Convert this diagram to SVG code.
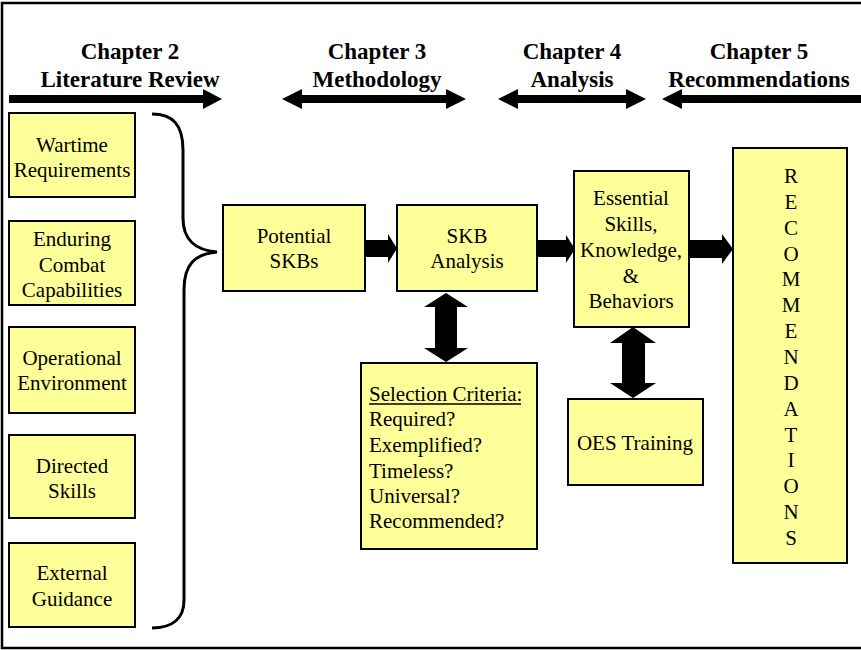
<svg xmlns="http://www.w3.org/2000/svg" width="861" height="650" viewBox="0 0 861 650" font-family="Liberation Serif, Times New Roman, Times, serif">
<style>
.box{fill:#FFFF99;stroke:#000;stroke-width:2}
.t{font-size:21px;text-anchor:middle;fill:#000}
.tl{font-size:21px;fill:#000}
.h{font-size:23px;font-weight:bold;text-anchor:middle;fill:#000}
.arr{fill:#000}
</style>
<rect width="861" height="650" fill="#fff"/>
<path d="M861,3 H2 V648 H861" fill="none" stroke="#000" stroke-width="2.5"/>
<g id="headers">
<text class="h" font-family="Liberation Serif" x="130" y="59">Chapter 2</text>
<text class="h" font-family="Liberation Serif" x="130" y="87">Literature Review</text>
<text class="h" font-family="Liberation Serif" x="377" y="59">Chapter 3</text>
<text class="h" font-family="Liberation Serif" x="377" y="87">Methodology</text>
<text class="h" font-family="Liberation Serif" x="572" y="59">Chapter 4</text>
<text class="h" font-family="Liberation Serif" x="572" y="87">Analysis</text>
<text class="h" font-family="Liberation Serif" x="759" y="59">Chapter 5</text>
<text class="h" font-family="Liberation Serif" x="759" y="87">Recommendations</text>
</g>
<g id="connectors">
<polygon class="arr" points="9,95 203,95 203,89 222,99 203,109 203,103 9,103"/>
<polygon class="arr" points="282,99 302,89 302,95 446,95 446,89 466,99 446,109 446,103 302,103 302,109"/>
<polygon class="arr" points="498,99 518,89 518,95 626,95 626,89 646,99 626,109 626,103 518,103 518,109"/>
<polygon class="arr" points="662,99 682,89 682,95 861,95 861,103 682,103 682,109"/>
<path d="M152,114 C173,114 183,125 183,150 L183,218 C183,240 195,250 217,252 C195,254 184,264 184,290 L184,600 C184,618 173,628 152,628" fill="none" stroke="#000" stroke-width="3"/>
<polygon class="arr" points="365,240 388,240 388,234 397,248.5 388,263 388,257 365,257"/>
<polygon class="arr" points="537,240 566,240 566,235 575,249 566,263 566,257 537,257"/>
<polygon class="arr" points="689,240 722,240 722,234 733,249 722,264 722,258 689,258"/>
<polygon class="arr" points="446,293 468,307 457,307 457,348 468,348 446,362 424,348 435,348 435,307 424,307"/>
<polygon class="arr" points="633,327 656,343 645,343 645,383 656,383 633,398 610,383 622,383 622,343 610,343"/>
</g>
<g id="wartime">
<rect class="box" x="9" y="113" width="126" height="84"/>
<text class="t" x="72" y="152">Wartime</text>
<text class="t" x="72" y="177">Requirements</text>
</g>
<g id="enduring">
<rect class="box" x="9" y="221" width="126" height="84"/>
<text class="t" x="72" y="246">Enduring</text>
<text class="t" x="72" y="272">Combat</text>
<text class="t" x="72" y="297">Capabilities</text>
</g>
<g id="operational">
<rect class="box" x="9" y="327" width="126" height="86"/>
<text class="t" x="72" y="365">Operational</text>
<text class="t" x="72" y="390">Environment</text>
</g>
<g id="directed">
<rect class="box" x="9" y="435" width="126" height="83"/>
<text class="t" x="72" y="473">Directed</text>
<text class="t" x="72" y="498">Skills</text>
</g>
<g id="external">
<rect class="box" x="9" y="543" width="126" height="84"/>
<text class="t" x="72" y="580">External</text>
<text class="t" x="72" y="606">Guidance</text>
</g>
<g id="potential">
<rect class="box" x="223" y="205" width="142" height="86"/>
<text class="t" x="294" y="243">Potential</text>
<text class="t" x="294" y="268">SKBs</text>
</g>
<g id="skb-analysis">
<rect class="box" x="397" y="205" width="140" height="86"/>
<text class="t" x="467" y="243">SKB</text>
<text class="t" x="467" y="268">Analysis</text>
</g>
<g id="essential">
<rect class="box" x="574" y="171" width="115" height="156"/>
<text class="t" x="631" y="205">Essential</text>
<text class="t" x="631" y="231">Skills,</text>
<text class="t" x="631" y="257">Knowledge,</text>
<text class="t" x="631" y="283">&amp;</text>
<text class="t" x="631" y="308">Behaviors</text>
</g>
<g id="recommendations">
<rect class="box" x="733" y="148" width="114" height="415"/>
<text class="t" x="791" y="183">R</text>
<text class="t" x="791" y="209">E</text>
<text class="t" x="791" y="235">C</text>
<text class="t" x="791" y="261">O</text>
<text class="t" x="791" y="286">M</text>
<text class="t" x="791" y="312">M</text>
<text class="t" x="791" y="338">E</text>
<text class="t" x="791" y="364">N</text>
<text class="t" x="791" y="390">D</text>
<text class="t" x="791" y="416">A</text>
<text class="t" x="791" y="442">T</text>
<text class="t" x="791" y="467">I</text>
<text class="t" x="791" y="493">O</text>
<text class="t" x="791" y="519">N</text>
<text class="t" x="791" y="545">S</text>
</g>
<g id="selection-criteria">
<rect class="box" x="361" y="363" width="176" height="186"/>
<text class="tl" x="369" y="401">Selection Criteria:</text>
<line x1="369" y1="404" x2="521" y2="404" stroke="#000" stroke-width="1.5"/>
<text class="tl" x="369" y="426">Required?</text>
<text class="tl" x="369" y="452">Exemplified?</text>
<text class="tl" x="369" y="478">Timeless?</text>
<text class="tl" x="369" y="503">Universal?</text>
<text class="tl" x="369" y="528">Recommended?</text>
</g>
<g id="oes-training">
<rect class="box" x="568" y="399" width="135" height="86"/>
<text class="t" x="635" y="450">OES Training</text>
</g>
</svg>
